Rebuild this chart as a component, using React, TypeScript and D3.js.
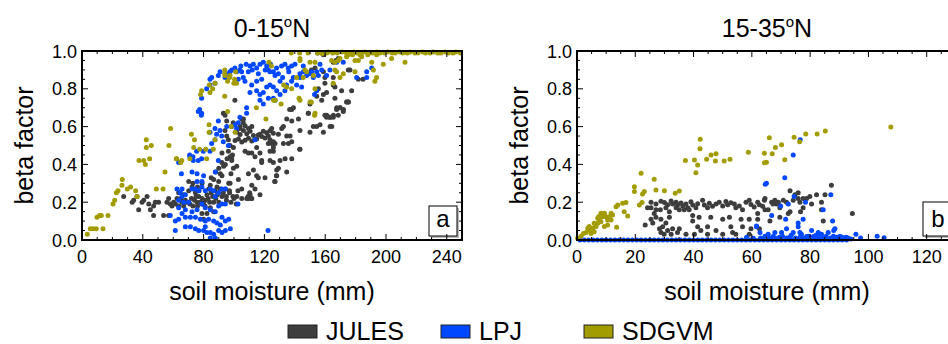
import { useEffect, useRef } from 'react';
import * as d3 from 'd3';

type Pt = [number, number];

const seriesNames = ['JULES', 'LPJ', 'SDGVM'];
const seriesColors = ['#3d3d3d', '#0048ff', '#a39c00'];
const panelTitles = ['0-15', '15-35'];
const panelLetters = ['a', 'b'];
const xTicksA = [0, 40, 80, 120, 160, 200, 240];
const xTicksB = [0, 20, 40, 60, 80, 100, 120];
const yTicks = [0, 0.2, 0.4, 0.6, 0.8, 1.0];

// panel a: 0-15N
const julesA: Pt[] = [
  [27.4,0.23],[33,0.2],[36.2,0.23],[34,0.21],[37.3,0.16],[39.5,0.2],[40.6,0.21],[42.8,0.23],[43.9,0.19],[45,0.16],
  [47.1,0.18],[48.2,0.2],[47.1,0.13],[50.4,0.2],[53.7,0.13],[55.9,0.2],[57,0.22],[58.1,0.19],[60.3,0.2],[61.4,0.19],
  [59.2,0.18],[62.5,0.22],[63.6,0.25],[65.8,0.2],[66.9,0.18],[57,0.13],[63.6,0.18],[70.2,0.26],[70.2,0.31],[72.4,0.28],
  [74.6,0.25],[76.8,0.23],[77.9,0.2],[75.7,0.2],[78.9,0.19],[81.1,0.21],[82.2,0.24],[83.3,0.27],[84.4,0.29],[86.6,0.32],
  [87.7,0.26],[88.8,0.28],[89.9,0.31],[91,0.35],[92.1,0.34],[93.2,0.39],[94.3,0.4],[95.4,0.43],[92.1,0.46],[82.2,0.14],
  [84.4,0.17],[86.6,0.2],[92.1,0.23],[96.5,0.3],[94.3,0.27],[86.6,0.15],[78.9,0.14],[80,0.11],
  [65,0.22],[67,0.24],[68,0.21],[69,0.2],[71,0.19],[72,0.22],[73,0.18],[74,0.21],[75,0.23],[76,0.18],
  [77,0.26],[79,0.22],[80,0.2],[81,0.18],[83,0.22],[84,0.2],[85,0.25],[86,0.23],[88,0.22],[89,0.24],
  [90,0.2],[91,0.27],[93,0.25],[95,0.23],[97,0.26],[98,0.2],[100,0.22],[73,0.3],[76,0.28],[79,0.3],
  [85,0.33],[88,0.36],[90,0.38],[92,0.41],[98,0.35],[99,0.45],
  [99.3,0.23],[109.2,0.23],[110.3,0.25],[111.4,0.22],[101.5,0.19],[102.6,0.26],[95,0.21],[97.1,0.25],[143.2,0.48],[126.8,0.31],[127.9,0.34],
  [100.6,0.74],[93,0.67],[94.1,0.66],[95.2,0.63],[94.1,0.58],[95.2,0.55],[96.3,0.53],[96.3,0.47],[97.4,0.5],[99.5,0.62],
  [105,0.64],[106.1,0.62],[103.9,0.59],[98.5,0.43],
  [106.2,0.64],[104,0.6],[107.3,0.605],[109.5,0.59],[111.7,0.6],[110.6,0.575],[108.4,0.562],[106.2,0.58],[104,0.558],[101.8,0.572],
  [112.8,0.553],[117.1,0.56],[119.3,0.575],[121.5,0.568],[123.7,0.578],[124.8,0.59],[125.9,0.565],[122.6,0.55],[120.4,0.54],[118.2,0.548],
  [116,0.555],[114.9,0.534],[111.7,0.524],[109.5,0.538],[107.3,0.528],[105.1,0.519],[102.9,0.535],[100.7,0.526],[123.7,0.53],[124.8,0.51],
  [125.9,0.52],[122.6,0.51],[125.9,0.49],[127,0.51],[129.2,0.56],[131.4,0.59],[132.5,0.6],[134.7,0.64],[138,0.69],[139.1,0.7],
  [138,0.63],[142.4,0.64],[143.4,0.58],[148.9,0.67],[150,0.57],[152.2,0.6],[154.4,0.6],[156.6,0.61],[158.8,0.57],[161,0.66],
  [163.2,0.65],[165.4,0.66],[167.6,0.7],[169.8,0.7],[172,0.69],[174.2,0.73],[175.3,0.73],[163.2,0.6],[164.3,0.6],[134.7,0.55],
  [136.9,0.55],[135.8,0.51],[138,0.52],[132.5,0.51],[99.6,0.49],[107.3,0.47],[109.5,0.46],[111.7,0.46],[113.8,0.44],[117.1,0.46],
  [118.2,0.42],[118.2,0.41],[114.9,0.49],[123.7,0.42],[125.9,0.41],[130.3,0.42],[133.6,0.43],[138,0.43],[143.4,0.48],[125.9,0.47],
  [123.7,0.47],[97.4,0.44],[98.5,0.42],[99.6,0.38],[101.8,0.39],[109.5,0.35],[112.8,0.37],[114.9,0.34],[116,0.33],[120.4,0.33],
  [128.1,0.37],[129.2,0.38],[134.7,0.36],[128.1,0.34],[127,0.31],[102.9,0.32],[111.7,0.29],[113.8,0.27],[105.1,0.27],[110.6,0.24],
  [109.5,0.22],[111.7,0.22],[108.4,0.22],[101.8,0.23],[105.1,0.22],[117.1,0.24],[97.4,0.3],
  [155,0.99],[158.8,0.98],[165.3,0.94],[167.1,0.95],[168.6,0.96],[153.3,0.91],[158.8,0.89],[159.8,0.86],[165.3,0.86],[155.5,0.8],
  [159.8,0.83],[165.3,0.82],[166.4,0.81],[160.9,0.78],[158.8,0.77],[154.4,0.76],[157.7,0.74],[166.4,0.75],[170.8,0.79],[177.4,0.79],
  [175.2,0.73],[174.1,0.73],[169.7,0.7],[167.5,0.69],[171.9,0.68],[168.6,0.66],[159.8,0.66],[160.9,0.65],[163.1,0.65],[165.3,0.65],
  [148.9,0.67],[150,0.72],[175.2,0.9],[176.3,0.9],[181.8,0.85],[184.9,0.85],[150.9,0.9],[136.6,0.69],
];

const lpjA: Pt[] = [
  [63.6,0.41],[65.4,0.35],[87.7,0.36],[80,0.34],[75.7,0.31],[78.9,0.31],[62.5,0.27],[65.8,0.27],[64.7,0.25],[68,0.24],
  [65.8,0.23],[63.6,0.21],[66.9,0.2],[70.2,0.2],[72.4,0.27],[74.6,0.27],[76.8,0.26],[78.9,0.28],[81.1,0.26],[84.4,0.27],
  [86.6,0.26],[87.7,0.23],[89.9,0.25],[92.1,0.27],[94.3,0.27],[92.1,0.19],[94.3,0.19],[89.9,0.18],[87.7,0.15],[84.4,0.16],
  [81.1,0.17],[78.9,0.19],[75.7,0.16],[72.4,0.15],[68,0.16],[63.6,0.17],[65.8,0.14],[61.4,0.1],[63.6,0.11],[68,0.12],
  [71.3,0.12],[74.6,0.12],[77.9,0.11],[81.1,0.1],[83.3,0.11],[86.6,0.1],[88.8,0.09],[91,0.08],[94.3,0.1],[96.5,0.11],
  [92.1,0.12],[58.1,0.13],[61.4,0.05],[68,0.07],[71.3,0.07],[74.6,0.06],[76.8,0.05],[80,0.05],[82.2,0.04],[84.4,0.04],
  [86.6,0.03],[89.9,0.05],[92.1,0.04],[94.3,0.05],[97.6,0.06],[87.7,0.01],[84.4,0.01],[81.1,0.07],[75.7,0.35],[72.4,0.36],
  [122.4,0.05],[102.6,0.19],[70.8,0.45],[73,0.44],[77.4,0.69],[78.5,0.66],
  [76.5,0.68],[78.7,0.67],[84.2,0.57],[87.5,0.59],[89.7,0.63],[90.8,0.58],[88.6,0.56],[91.9,0.55],[95.2,0.6],[98.5,0.6],
  [100.6,0.61],[102.8,0.62],[103.9,0.65],[101.7,0.59],[108.3,0.67],[108.3,0.7],[113.8,0.53],[96.3,0.5],[93,0.52],[87.5,0.53],
  [85.3,0.51],[84.2,0.47],[79.8,0.47],[75.4,0.47],[78.7,0.43],[76.5,0.42],[73.2,0.42],[71,0.44],[89.7,0.42],[78.7,0.75],
  [82,0.8],[84.2,0.82],[84.2,0.85],[85.3,0.86],[87.5,0.83],[89.7,0.87],[90.8,0.89],[94.1,0.86],[95.2,0.88],[97.4,0.89],
  [98.5,0.9],[100.6,0.91],[101.7,0.89],[103.9,0.9],[105,0.89],[102.8,0.85],[106.1,0.86],[110.5,0.92],[112.7,0.93],[114.9,0.91],
  [117.1,0.93],[119.3,0.94],[121.5,0.92],[122.6,0.9],[123.7,0.89],[125.9,0.89],[127,0.87],[129.2,0.88],[131.3,0.92],[133.5,0.93],
  [135.7,0.91],[137.9,0.92],[140.1,0.93],[130.3,0.84],[111.6,0.82],[110.5,0.78],[114.9,0.79],[117.1,0.77],[119.3,0.78],[121.5,0.81],
  [123.7,0.82],[125.9,0.81],[128.1,0.79],[130.3,0.77],[125.9,0.75],[122.6,0.75],[117.1,0.74],[119.3,0.72],[127,0.74],[133.5,0.79],
  [134.6,0.82],[137.9,0.84],[139,0.86],[143.4,0.88],[145.6,0.89],[147.8,0.87],[141.2,0.82],[114.9,0.84],[118.2,0.85],[109.4,0.89],
  [107.2,0.84],[112,0.9],[116,0.88],[120.5,0.9],[124,0.93],[128,0.91],[132,0.86],[136,0.89],[104.5,0.92],[108,0.93],
  [145.6,0.92],[143.4,0.86],[144.5,0.81],[150,0.88],[151.1,0.89],[152.2,0.86],[154.4,0.89],[155.5,0.87],[156.6,0.93],[157.7,0.9],
  [160.9,0.87],[163.1,0.9],[167.5,0.94],[171.9,0.94],[180.7,0.86],[187.3,0.86],[187.3,0.89],[190.6,0.91],[154.4,0.79],[153,0.77],
];

const sdgvmA: Pt[] = [
  [3.5,0.03],[5.5,0.06],[7.2,0.06],[9.4,0.06],[13.8,0.06],[9.9,0.12],[11.6,0.13],[12.7,0.13],[17.1,0.13],[20.4,0.19],
  [21.5,0.21],[22.6,0.25],[26.5,0.32],[26.3,0.29],[23.7,0.26],[29.8,0.27],[32,0.28],[35.3,0.26],[36.2,0.23],[37.5,0.42],
  [40.6,0.42],[44.5,0.43],[41.7,0.4],[42.3,0.49],[42.3,0.53],[45.6,0.5],[48.9,0.27],[53.3,0.27],[54.6,0.36],[57.2,0.5],
  [58.3,0.59],[62,0.43],[64.9,0.41],[72,0.56],[74,0.53],[73.5,0.49],[77.4,0.48],[81.4,0.48],[78,0.77],[78.7,0.79],
  [83.6,0.61],[83.6,0.57],[86,0.8],[83.8,0.82],[93.9,0.9],[93.9,0.88],[95.8,0.84],[97.1,0.86],[99.9,0.83],[93.9,0.76],
  [95.8,0.68],[98.2,0.6],[100.7,0.57],[100.4,0.85],[101,0.89],[114.7,0.7],[121,0.64],[123,0.94],[124.6,0.92],[126,0.74],
  [131,0.72],[132.7,0.82],[137.7,0.99],[143.2,0.99],[148.7,0.99],[142.8,0.75],[150.9,0.73],[153,0.66],
  [86.4,0.48],[87.5,0.53],[82,0.43],[71,0.43],[62.3,0.43],[65.6,0.42],[84.2,0.78],[87.5,0.83],[94.1,0.87],[97.4,0.87],
  [101.7,0.83],[127,0.74],[143.4,0.96],[147.8,0.89],[134.6,0.81],[137.9,0.8],[141.2,0.86],[143.4,0.74],
  [143.4,0.95],[150,0.94],[153.3,0.94],[146.7,0.9],[152.2,0.87],[145.6,0.86],[164.2,0.95],[166.4,0.94],[168.6,0.95],[169.7,0.96],
  [174.1,0.97],[175.2,0.98],[182.9,0.98],[184,0.97],[179.6,0.95],[181.8,0.95],[190.6,0.94],[193.8,0.98],[198.2,0.93],[203.7,0.96],
  [212.5,0.94],[166.4,0.9],[167.5,0.89],[171.9,0.88],[169.7,0.86],[179.6,0.89],[191.7,0.9],[193.8,0.86],[192.7,0.84],[165.3,0.83],
  [153.3,0.8],[150,0.73],[153.3,0.67],
  [155,0.99],[158,0.985],[161,0.99],[162,0.995],[165,0.99],[168,0.99],[171,0.995],[174,0.99],[176,0.99],[179,0.995],
  [181,0.99],[184,0.99],[186,0.995],[189,0.99],[191,0.99],[194,0.995],[196,0.99],[199,0.99],[201,0.995],[204,0.99],
  [206,0.99],[209,0.995],[211,0.99],[214,0.99],[216,0.995],[219,0.99],[221,0.99],[224,0.995],[226,0.99],[229,0.99],
  [231,0.995],[234,0.99],[236,0.99],[239,0.995],[241,0.99],[244,0.99],[246,0.995],[249,0.99],[178,0.98],[188,0.98],
];

// panel b: 15-35N
const julesB: Pt[] = [
  [25.4,0.2],[27.1,0.19],[28.8,0.205],[30,0.198],[31.1,0.186],[32.3,0.207],[32.8,0.19],[34,0.2],[34.5,0.185],[35.7,0.196],
  [36.3,0.18],[37.4,0.19],[38,0.17],[39.1,0.203],[39.7,0.185],[40.8,0.17],[41.4,0.192],[43.1,0.21],[43.7,0.185],[44.8,0.17],
  [45.4,0.194],[46.5,0.178],[47.7,0.19],[48.8,0.2],[50,0.18],[51.1,0.204],[51.7,0.186],[52.8,0.197],[54,0.19],[54.5,0.17],
  [55.7,0.18],[56.8,0.16],[58,0.2],[59.1,0.21],[59.7,0.188],[60.8,0.175],[62,0.2],[62.6,0.187],[63.7,0.178],[64.3,0.21],
  [25.4,0.17],[27.1,0.16],[26.5,0.14],[28.6,0.16],[30.5,0.17],[31.7,0.15],[34,0.17],[35.1,0.16],[36.8,0.16],[38.5,0.16],
  [24.2,0.17],[39.7,0.13],
  [23.4,0.08],[25.4,0.11],[27.1,0.12],[26,0.09],[28.8,0.11],[29.4,0.07],[30.5,0.09],[28.3,0.06],[31.1,0.05],[32.8,0.06],
  [34.5,0.04],[35.1,0.06],[28.8,0.04],[29.9,0.03],[32.3,0.03],[31.7,0.12],[39.7,0.1],[41.9,0.12],[41.4,0.07],[42.5,0.05],
  [44.8,0.07],[45.9,0.12],[44.8,0.03],[50,0.11],[52.3,0.12],[52.8,0.07],[53.4,0.04],[47.7,0.05],[50,0.03],[56.3,0.11],
  [56.8,0.07],[59.7,0.06],[59.1,0.11],[62,0.14],[62,0.11],[62.6,0.06],[37.4,0.03],[40.3,0.03],[54.5,0.03],[59.1,0.03],
  [64.5,0.22],[64.5,0.16],[65.6,0.16],[66.8,0.2],[67.3,0.19],[67.9,0.21],[68.5,0.19],[69.1,0.2],[69.6,0.17],[70.8,0.21],
  [71.9,0.2],[72.5,0.14],[73.1,0.26],[74.2,0.21],[74.8,0.24],[75.9,0.25],[76.5,0.2],[75.9,0.22],[77.6,0.22],[79.9,0.23],
  [80.5,0.19],[82.2,0.24],[83.9,0.2],[85.1,0.24],[87.3,0.29],[84.5,0.1],[83.9,0.16],[94.5,0.14],[66.2,0.1],[69.6,0.12],
  [73.1,0.15],[76.7,0.15],[78.8,0.22],[77.6,0.17],
];

const lpjB: Pt[] = [
  [1,0],[2.5,0],[4,0],[5.5,0],[7,0],[8.5,0],[10,0],[11.5,0],[13,0],[14.5,0],
  [16,0],[17.5,0],[19,0],[20.5,0],[22,0],[23.5,0],[25,0],[26.5,0],[28,0],[29.5,0],
  [31,0],[32.5,0],[34,0],[35.5,0],[37,0],[38.5,0],[40,0],[41.5,0],[43,0],[44.5,0],
  [46,0],[47.5,0],[49,0],[50.5,0],[52,0],[53.5,0],[55,0],[56.5,0],[58,0],[59.5,0],
  [61,0],[62.5,0],[64,0],[65.5,0],[67,0],[68.5,0],[70,0],[71.5,0],[73,0],[74.5,0],
  [76,0],[77.5,0],[79,0],[80.5,0],[82,0],[83.5,0],[85,0],[86.5,0],[88,0],[89.5,0],
  [91,0],[92.5,0],
  [63,0.01],[64.5,0.02],[66,0.01],[67.5,0.015],[69,0.01],[70.5,0.02],[72,0.01],[73.5,0.025],[75,0.01],[76.5,0.015],
  [77,0.03],[78,0.01],[79.5,0.02],[81,0.01],[82,0.025],[83,0.015],[84.5,0.01],[85.5,0.02],[87,0.01],[88,0.02],
  [89.5,0.01],[91,0.015],[93,0.01],[94,0.005],
  [76.6,0.53],[74.2,0.45],[65,0.3],[71.3,0.33],[74.5,0.23],[78.4,0.2],[72.5,0.19],[69.9,0.18],[66.8,0.13],[71.6,0.11],
  [84.5,0.16],[87.1,0.24],[87.7,0.1],[77.6,0.11],[75.9,0.09],[75.9,0.07],[80.5,0.05],[76.5,0.04],[74.2,0.04],[71.9,0.06],
  [70.2,0.04],[67.9,0.04],[65.6,0.03],[62.8,0.04],[61.6,0.07],[82.8,0.04],[83.9,0.03],[86.2,0.04],[88.1,0.05],[88.5,0.06],
  [90.2,0.02],[92.3,0.015],[95.7,0.03],[97.3,0.01],[103,0.02],[105.4,0.012],[89.1,0.014],[85.1,0.01],[81.1,0.018],[78.8,0.018],
  [73.1,0.014],[69.6,0.014],[67.3,0.018],[58.2,0.014],[60.5,0.009],[61.6,0.074],[64.6,0.295],
];

const sdgvmB: Pt[] = [
  [0.2,0.01],[1.4,0.02],[2.2,0.035],[3.1,0.04],[4.2,0.053],[5.4,0.062],[4.8,0.035],[5.9,0.044],[6.5,0.071],[7.1,0.088],
  [7.7,0.106],[7.4,0.123],[8.2,0.097],[8.8,0.123],[9.4,0.141],[10,0.123],[10.5,0.106],[11.1,0.123],[11.7,0.141],[12.2,0.132],
  [10.5,0.079],[9.4,0.071],[11.7,0.106],[8.2,0.141],[7.1,0.115],[5.9,0.088],[4.2,0.071],[3.7,0.062],[13.4,0.176],[14,0.185],
  [15.7,0.194],[16.8,0.198],[13.6,0.067],[16.2,0.15],[17.4,0.127],[19.7,0.256],[19.7,0.282],[22,0.353],[21.4,0.185],[22.3,0.198],
  [22.5,0.243],[23.1,0.256],[26.5,0.321],[27.1,0.265],[30,0.261],[33.7,0.247],[35.1,0.259],[37.2,0.42],[40.3,0.423],[40.8,0.356],
  [41.4,0.397],[42.2,0.483],[42.3,0.533],[44.5,0.427],[46,0.45],[47.7,0.457],[47.5,0.418],[50.5,0.418],[52.5,0.427],[58.8,0.464],
  [64.3,0.459],[64.3,0.409],[66,0.541],[65,0.411],[67,0.457],[68.1,0.489],[70.2,0.504],[71.3,0.425],[74.5,0.543],[76.4,0.52],
  [78.5,0.561],[82.4,0.561],[85.2,0.577],[107.7,0.598],
];

export default function App() {
  const svgRef = useRef<SVGSVGElement>(null);

  useEffect(() => {
    if (!svgRef.current) return;
    const svg = d3.select(svgRef.current);
    svg.selectAll('*').remove();

    const font = '"Liberation Sans", Arial, Helvetica, sans-serif';
    const top = 51;
    const h = 189;
    const w = 380;

    svg.append('rect').attr('width', 948).attr('height', 344).attr('fill', '#fff');

    const panels = [
      { left: 82, xMax: 250, ticks: xTicksA, minor: 10, series: [julesA, lpjA, sdgvmA], box: { x: 429, y: 206, w: 28, h: 30 } },
      { left: 577, xMax: 130.4, ticks: xTicksB, minor: 5, series: [julesB, lpjB, sdgvmB], box: { x: 923, y: 202, w: 34, h: 34 } },
    ];

    panels.forEach((p, pi) => {
      const x = d3.scaleLinear().domain([0, p.xMax]).range([p.left, p.left + w]);
      const y = d3.scaleLinear().domain([0, 1]).range([top + h, top]);
      const g = svg.append('g');

      // scatter points
      p.series.forEach((pts, si) => {
        g.append('g')
          .selectAll('circle')
          .data(pts)
          .join('circle')
          .attr('cx', (d) => x(d[0]))
          .attr('cy', (d) => y(d[1]))
          .attr('r', 2.5)
          .attr('fill', seriesColors[si]);
      });

      // panel letter box
      g.append('rect')
        .attr('x', p.box.x + 2).attr('y', p.box.y + 2)
        .attr('width', p.box.w).attr('height', p.box.h)
        .attr('fill', '#bbb');
      g.append('rect')
        .attr('x', p.box.x).attr('y', p.box.y)
        .attr('width', p.box.w).attr('height', p.box.h)
        .attr('fill', '#fff').attr('stroke', '#000').attr('stroke-width', 1);
      g.append('text')
        .attr('x', p.box.x + p.box.w / 2 + (pi === 1 ? -2 : 0)).attr('y', 227)
        .attr('text-anchor', 'middle').attr('font-family', font).attr('font-size', 24)
        .text(panelLetters[pi]);

      // ticks, all four sides, pointing inward
      const ticksG = g.append('g').attr('stroke', '#000').attr('stroke-width', 1);
      d3.range(0, p.xMax + 0.001, p.minor).forEach((v) => {
        const len = p.ticks.includes(v) ? 6 : 3;
        ticksG.append('line').attr('x1', x(v)).attr('x2', x(v)).attr('y1', top + h).attr('y2', top + h - len);
        ticksG.append('line').attr('x1', x(v)).attr('x2', x(v)).attr('y1', top).attr('y2', top + len);
      });
      d3.range(0, 1.0001, 0.05).forEach((v) => {
        const major = Math.abs(v / 0.2 - Math.round(v / 0.2)) < 1e-6;
        const len = major ? 6 : 3;
        ticksG.append('line').attr('x1', p.left).attr('x2', p.left + len).attr('y1', y(v)).attr('y2', y(v));
        ticksG.append('line').attr('x1', p.left + w).attr('x2', p.left + w - len).attr('y1', y(v)).attr('y2', y(v));
      });

      // frame
      g.append('rect')
        .attr('x', p.left).attr('y', top).attr('width', w).attr('height', h)
        .attr('fill', 'none').attr('stroke', '#000').attr('stroke-width', 2);

      // tick labels
      g.append('g').selectAll('text').data(p.ticks).join('text')
        .attr('x', (d) => x(d)).attr('y', top + h + 23)
        .attr('text-anchor', 'middle').attr('font-family', font).attr('font-size', 18)
        .text((d) => String(d));
      g.append('g').selectAll('text').data(yTicks).join('text')
        .attr('x', p.left - 5).attr('y', (d) => y(d) + 6.5)
        .attr('text-anchor', 'end').attr('font-family', font).attr('font-size', 18)
        .text((d) => d3.format('.1f')(d));

      // title
      const cx = p.left + w / 2;
      const t = g.append('text')
        .attr('x', cx).attr('y', 37)
        .attr('text-anchor', 'middle').attr('font-family', font).attr('font-size', 25);
      t.append('tspan').text(panelTitles[pi]);
      t.append('tspan').attr('font-size', 15).attr('dy', -10).text('o');
      t.append('tspan').attr('dy', 10).text('N');

      // axis labels
      g.append('text')
        .attr('x', cx).attr('y', 300)
        .attr('text-anchor', 'middle').attr('font-family', font).attr('font-size', 25)
        .text('soil moisture (mm)');
      g.append('text')
        .attr('transform', `translate(${p.left - 49},${top + h / 2}) rotate(-90)`)
        .attr('text-anchor', 'middle').attr('font-family', font).attr('font-size', 25)
        .text('beta factor');
    });

    // legend
    const legendX = [288, 441, 584];
    const legend = svg.append('g');
    seriesNames.forEach((name, i) => {
      legend.append('rect')
        .attr('x', legendX[i]).attr('y', 325).attr('width', 29).attr('height', 13)
        .attr('fill', seriesColors[i]).attr('stroke', '#222').attr('stroke-width', 1);
      legend.append('text')
        .attr('x', legendX[i] + 38).attr('y', 340)
        .attr('font-family', font).attr('font-size', 25)
        .text(name);
    });
  }, []);

  return (
    <svg
      ref={svgRef}
      width={948}
      height={344}
      style={{ position: 'absolute', left: 0, top: 0 }}
    />
  );
}
